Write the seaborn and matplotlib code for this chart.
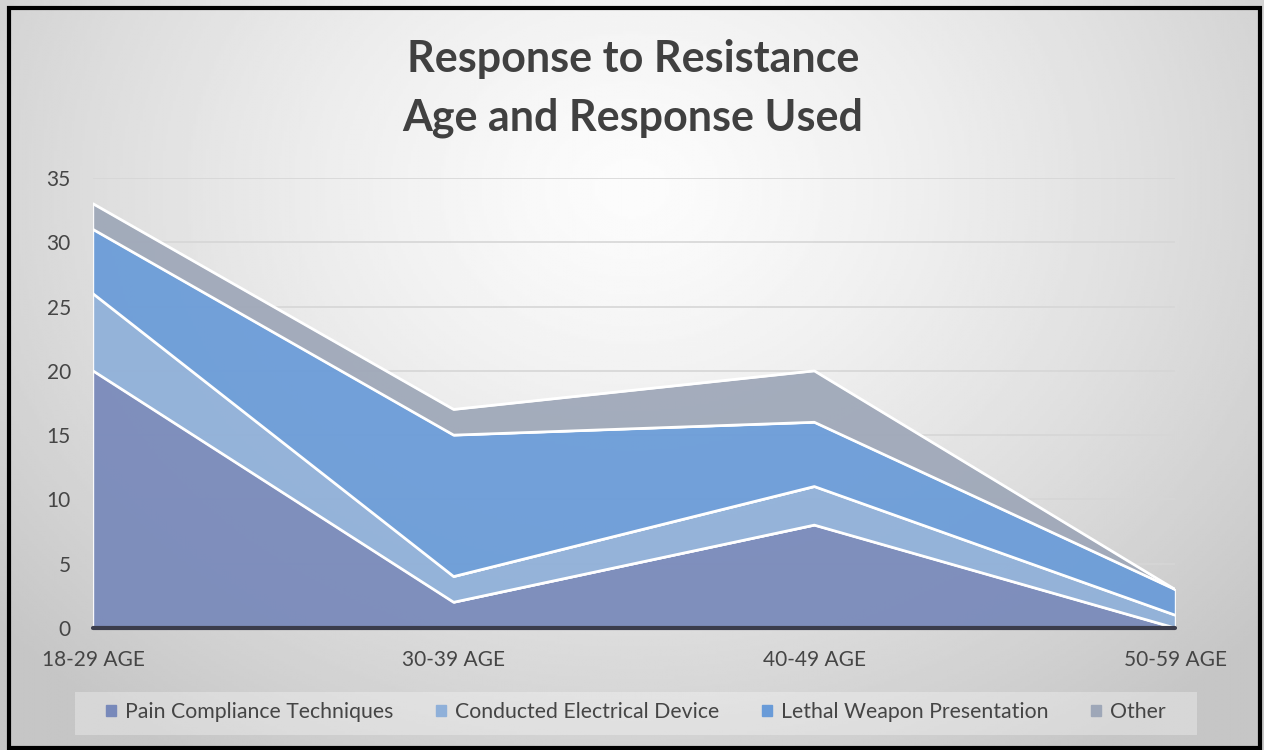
import matplotlib
matplotlib.use("Agg")
import matplotlib.pyplot as plt
import matplotlib.patches as mpatches
import numpy as np
import pandas as pd
import seaborn as sns

# Data
ages = ["18-29 AGE", "30-39 AGE", "40-49 AGE", "50-59 AGE"]
pain = [20, 2, 8, 0]
ced = [6, 2, 3, 1]
lethal = [5, 11, 5, 2]
other = [2, 2, 4, 0]
series_names = ["Pain Compliance Techniques", "Conducted Electrical Device",
                "Lethal Weapon Presentation", "Other"]
colors = ["#7889BA", "#8FB0D9", "#699BD8", "#9EA7B8"]

sns.set_theme(style="white")
plt.rcParams["font.family"] = ["Lato", "DejaVu Sans"]

W, H = 1264, 750
fig = plt.figure(figsize=(W / 100, H / 100), dpi=100)

# radial grey gradient background
bg = fig.add_axes([0, 0, 1, 1], zorder=-10)
yy, xx = np.mgrid[0:1:300j, 0:1:500j]
d = np.sqrt(((xx - 0.5) / 0.62) ** 2 + ((yy - 0.25) / 0.85) ** 2)
shade = np.clip(252 - 50 * d ** 1.3, 198, 252) / 255
bg.imshow(shade, cmap="gray", vmin=0, vmax=1, aspect="auto",
          extent=[0, 1, 1, 0], interpolation="bilinear")
bg.set_axis_off()

ax = fig.add_axes([93 / W, 1 - 628 / H, (1175 - 93) / W, 450 / H])
ax.set_facecolor("none")

df = pd.DataFrame({"x": range(len(ages)), "age": ages, series_names[0]: pain,
                   series_names[1]: ced, series_names[2]: lethal, series_names[3]: other})

ax.yaxis.grid(True, color="#d6d6d6", lw=1.2, zorder=0)
ax.set_axisbelow(True)
ax.stackplot(df["x"], [df[n] for n in series_names], colors=colors,
             alpha=0.93, zorder=2)

# white separators along each stacked boundary
cum = df[series_names].cumsum(axis=1)
for n in series_names:
    sns.lineplot(x=df["x"], y=cum[n], ax=ax, color="white", lw=2,
                 zorder=3, legend=False)

ax.axhline(0, color="#3b3d4c", lw=3, zorder=4, clip_on=False)

ax.set_xlim(0, 3)
ax.set_ylim(0, 35)
ax.set_yticks(range(0, 36, 5))
ax.set_xticks(df["x"])
ax.set_xticklabels(ages)
ax.set_xlabel("")
ax.set_ylabel("")
ax.tick_params(axis="y", length=0, pad=16, labelsize=15, labelcolor="#454545")
ax.tick_params(axis="x", length=0, pad=16, labelsize=15, labelcolor="#454545")
sns.despine(ax=ax, left=True, bottom=True)

# title
fig.text(633 / W, 1 - 72 / H, "Response to Resistance", ha="center",
         va="baseline", fontsize=31, fontweight="bold", color="#404040")
fig.text(633 / W, 1 - 130 / H, "Age and Response Used", ha="center",
         va="baseline", fontsize=31, fontweight="bold", color="#404040")

# legend box and legend
fig.patches.append(mpatches.Rectangle((75 / W, 1 - 735 / H), 1122 / W, 43 / H,
                                      transform=fig.transFigure, facecolor="white",
                                      alpha=0.3, edgecolor="none", zorder=1))
handles = [mpatches.Patch(color=c, label=n) for c, n in zip(colors, series_names)]
fig.legend(handles=handles, loc="center", bbox_to_anchor=(636 / W, 1 - 712 / H),
           ncol=4, frameon=False, fontsize=15.3, handlelength=0.45, handleheight=0.45,
           handletextpad=0.45, columnspacing=2.0, labelcolor="#454545")

# black outer border
fig.patches.append(mpatches.Rectangle((9 / W, 2 / H), 1251 / W, 740 / H,
                                      transform=fig.transFigure, facecolor="none",
                                      edgecolor="black", lw=3, zorder=20))

fig.savefig("out.png", dpi=100)
